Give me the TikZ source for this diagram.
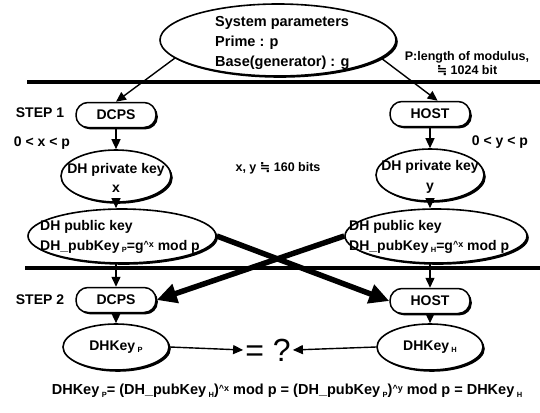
\documentclass[tikz,border=0pt]{standalone}
\usepackage{fontspec}
\setmainfont{Liberation Sans}
\newfontfamily\symfont{DejaVu Sans}
\usetikzlibrary{shapes.geometric,arrows.meta,shadows}
\newcommand{\lsub}[1]{\,\raisebox{-0.35ex}{\fontsize{7.5}{7.5}\selectfont #1}}
\newcommand{\lsup}[1]{\raisebox{0.45ex}{\fontsize{9}{9}\selectfont\textasciicircum #1}}
\begin{document}
\begin{tikzpicture}[x=1pt,y=-1pt,
  every node/.style={font=\bfseries\fontsize{14}{19.5}\selectfont, inner sep=0pt},
  shad/.style={drop shadow={shadow xshift=1.8pt, shadow yshift=-1.8pt, fill=black, opacity=1}},
  oval/.style={ellipse, draw, line width=1.6pt, fill=white, shad},
  pill/.style={rectangle, rounded corners=12pt, draw, line width=1.5pt, fill=white, shad,
    minimum width=80pt, minimum height=25pt},
  note/.style={font=\bfseries\fontsize{12.5}{14}\selectfont, align=center},
  arr/.style={-{Triangle[length=10pt,width=9pt]}, line width=1.4pt},
  bigarr/.style={-{Triangle[length=20pt,width=19pt]}, line width=5.5pt},
  sepline/.style={line width=3.2pt}]
\useasboundingbox (0,0) rectangle (540,412);

% separators
\coordinate (s1a) at (27,82); \coordinate (s1b) at (540,82);
\coordinate (s2a) at (25,268); \coordinate (s2b) at (540,268);
\draw[sepline] (s1a) -- (s1b);
\draw[sepline] (s2a) -- (s2b);

% system parameters
\node[oval, minimum width=236pt, minimum height=72pt] (sys) at (278,40) {};
\node[anchor=west, align=left, font=\bfseries\fontsize{14.5}{20}\selectfont] (systxt) at (215,43) {System parameters\\Prime : p\\Base(generator) : g};
\node[note] (plen) at (467,64) {P:length of modulus,\\{\symfont ≒} 1024 bit};

% step 1
\node (step1) at (40,113) {STEP 1};
\node[pill] (dcps1) at (116,115) {DCPS};
\node[pill] (host1) at (430,114) {HOST};
\node (rx) at (42,143) {0 < x < p};
\node (ry) at (500,142) {0 < y < p};
\node[note] (bits) at (278,168) {x, y {\symfont ≒} 160 bits};

\node[oval, minimum width=110pt, minimum height=52pt] (priv1) at (116,176) {};
\node[align=center] (priv1t) at (116,178) {DH private key\\x};
\node[oval, minimum width=108pt, minimum height=52pt] (priv2) at (430,175) {};
\node[align=center] (priv2t) at (430,177) {DH private key\\y};

\node[oval, minimum width=188pt, minimum height=54pt] (pub1) at (122,236) {};
\node[anchor=west, align=left] (pub1t) at (40,237) {DH public key\\DH\_pubKey\lsub{P}=g\lsup{x} mod p};
\node[oval, minimum width=182pt, minimum height=54pt] (pub2) at (436,236) {};
\node[anchor=west, align=left] (pub2t) at (349,237) {DH public key\\DH\_pubKey\lsub{H}=g\lsup{x} mod p};

% step 2
\node (step2) at (40,300) {STEP 2};
\node[pill] (dcps2) at (116,300) {DCPS};
\node[pill] (host2) at (430,301) {HOST};

\node[oval, minimum width=106pt, minimum height=46pt] (key1) at (116,347) {};
\node (key1t) at (116,347) {DHKey\lsub{P}};
\node[oval, minimum width=106pt, minimum height=46pt] (key2) at (430,347) {};
\node (key2t) at (430,347) {DHKey\lsub{H}};

\node[font=\fontsize{32}{32}\selectfont, inner sep=2pt] (eq) at (268,350) {= ?};

\node[font=\bfseries\fontsize{14.5}{16}\selectfont] (form) at (287,391)
  {DHKey\lsub{P}= (DH\_pubKey\lsub{H})\lsup{x} mod p = (DH\_pubKey\lsub{P})\lsup{y} mod p = DHKey\lsub{H}};

% connectors
\draw[arr] (sys.190) -- (dcps1.north);
\draw[arr] (sys.-10) -- (host1.60);
\draw[arr] (dcps1.south) -- (priv1.north);
\draw[arr] (host1.south) -- (priv2.north);
\draw[arr] (priv1.south) -- (priv1.south |- pub1.north);
\draw[arr] (priv2.south) -- (priv2.south |- pub2.north);
\draw[arr] (pub1.south -| dcps2.north) -- (dcps2.north);
\draw[arr] (pub2.south -| host2.north) -- (host2.north);
\draw[arr] (dcps2.south) -- (key1.north);
\draw[arr] (host2.south) -- (key2.north);
\draw[bigarr] (pub1.east) -- (host2.west);
\draw[bigarr] (pub2.west) -- (dcps2.east);
\draw[arr] (key1.east) -- (eq.west);
\draw[arr] (key2.west) -- (eq.east);
\end{tikzpicture}
\end{document}
